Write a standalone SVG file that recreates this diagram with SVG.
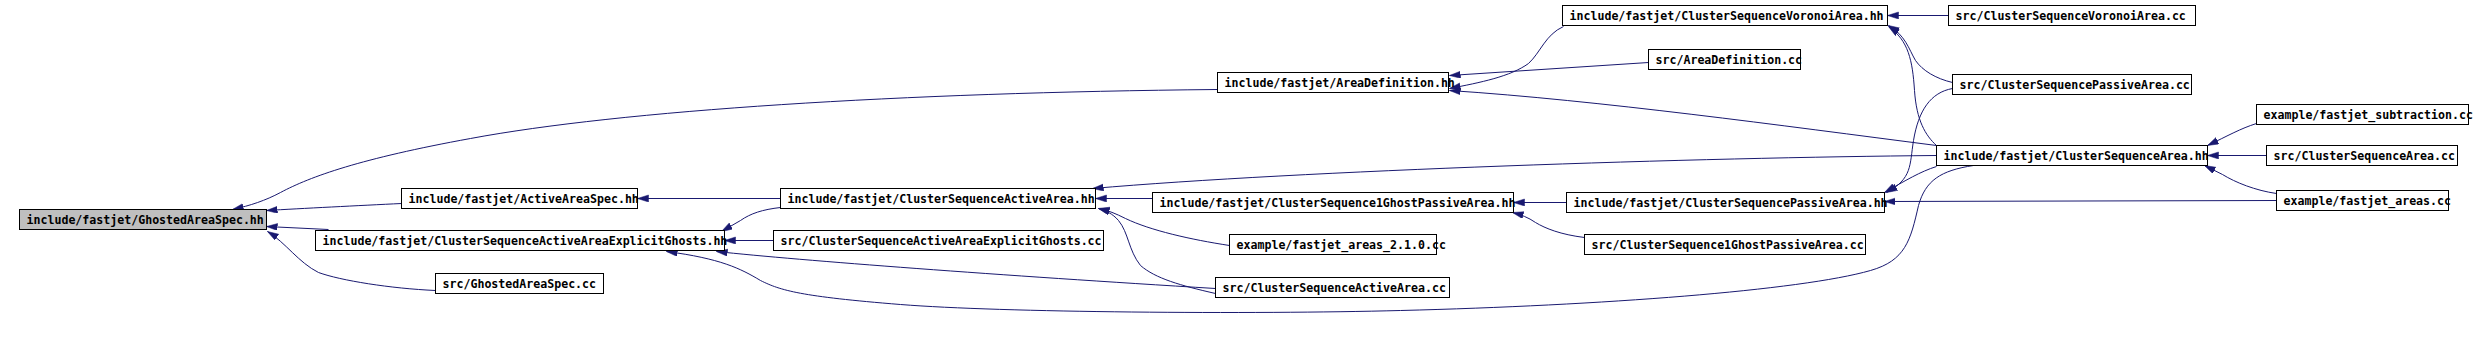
<svg xmlns="http://www.w3.org/2000/svg" width="2484" height="357" viewBox="0 0 2484 357">
<style>
.n rect{fill:#ffffff;stroke:#000000;stroke-width:1}
.n.root rect{fill:#bfbfbf}
.n text{font-family:"DejaVu Sans Mono","Liberation Mono",monospace;font-size:11.6px;font-weight:bold;fill:#000000}
#edges path{fill:none;stroke:#191970;stroke-width:1;marker-end:url(#arr)}
</style>
<defs>
<marker id="arr" markerUnits="userSpaceOnUse" markerWidth="12" markerHeight="8" refX="11" refY="3.5" orient="auto">
<path d="M0,0 L11,3.5 L0,7 z" fill="#191970" stroke="#191970" stroke-width="0.5"/>
</marker>
</defs>
<rect x="0" y="0" width="2484" height="357" fill="#ffffff"/>
<g transform="translate(0.5,0.5)">
<g id="edges">
<path d="M1217,89 C900,92 620,110 470,138 C360,158 310,176 280,192 C265,200 250,205 232,209"/>
<path d="M401,203 C360,205 300,208 266,210"/>
<path d="M328,229 L266,226"/>
<path d="M435,290 C390,288 340,280 318,272 C298,262 285,242 267,231"/>
<path d="M780,198 L637,198"/>
<path d="M780,207 C762,209 750,213 740,220 L721,231"/>
<path d="M773,240 L724,240"/>
<path d="M1215,288 C1000,275 800,260 716,251"/>
<path d="M1973,165 C1940,170 1925,180 1918,205 C1910,240 1905,260 1870,270 C1800,290 1600,305 1400,310 C1250,314 1000,312 900,304 C800,296 780,290 760,280 C740,268 720,258 666,251"/>
<path d="M1152,198 L1095,198"/>
<path d="M1936,155 C1700,157 1300,170 1092,188"/>
<path d="M1229,245 C1190,239 1150,230 1125,218 C1115,213 1108,210 1098,208"/>
<path d="M1215,293 C1180,285 1155,278 1140,265 C1128,250 1128,232 1118,220 C1112,213 1105,210 1098,208"/>
<path d="M1566,202 L1513,202"/>
<path d="M1584,237 C1560,234 1545,228 1535,222 C1528,217 1520,214 1512,212"/>
<path d="M1936,166 C1920,171 1905,180 1884,192"/>
<path d="M1952,88 C1930,92 1918,110 1913,140 C1909,165 1912,178 1886,192"/>
<path d="M2276,200 L1884,201"/>
<path d="M1936,145 C1925,135 1916,120 1914,90 C1912,60 1908,40 1888,26"/>
<path d="M1952,82 C1935,78 1922,70 1915,60 C1908,48 1905,35 1888,25"/>
<path d="M1948,15 L1887,15"/>
<path d="M1563,26 C1545,34 1540,52 1528,63 C1510,76 1480,82 1449,88"/>
<path d="M1648,62 L1449,75"/>
<path d="M1936,145 C1780,125 1600,100 1449,90"/>
<path d="M2256,123 C2240,128 2228,135 2207,145"/>
<path d="M2266,155 L2207,155"/>
<path d="M2276,193 C2255,190 2235,182 2222,174 L2204,165"/>
</g>
<g id="n_ghosted_hh" class="n root"><rect x="19" y="209" width="247" height="20"/><text x="26" y="223.5">include/fastjet/GhostedAreaSpec.hh</text></g>
<g id="n_activeareaspec_hh" class="n"><rect x="401" y="188" width="236" height="20"/><text x="408" y="202.5">include/fastjet/ActiveAreaSpec.hh</text></g>
<g id="n_csaaeg_hh" class="n"><rect x="315" y="230" width="409" height="20"/><text x="322" y="244.5">include/fastjet/ClusterSequenceActiveAreaExplicitGhosts.hh</text></g>
<g id="n_ghosted_cc" class="n"><rect x="435" y="273" width="168" height="20"/><text x="442" y="287.5">src/GhostedAreaSpec.cc</text></g>
<g id="n_csactive_hh" class="n"><rect x="780" y="188" width="315" height="20"/><text x="787" y="202.5">include/fastjet/ClusterSequenceActiveArea.hh</text></g>
<g id="n_csaaeg_cc" class="n"><rect x="773" y="230" width="330" height="20"/><text x="780" y="244.5">src/ClusterSequenceActiveAreaExplicitGhosts.cc</text></g>
<g id="n_areadef_hh" class="n"><rect x="1217" y="72" width="231" height="20"/><text x="1224" y="86.5">include/fastjet/AreaDefinition.hh</text></g>
<g id="n_cs1gpa_hh" class="n"><rect x="1152" y="192" width="361" height="20"/><text x="1159" y="206.5">include/fastjet/ClusterSequence1GhostPassiveArea.hh</text></g>
<g id="n_areas210_cc" class="n"><rect x="1229" y="234" width="207" height="20"/><text x="1236" y="248.5">example/fastjet_areas_2.1.0.cc</text></g>
<g id="n_csactive_cc" class="n"><rect x="1215" y="277" width="234" height="20"/><text x="1222" y="291.5">src/ClusterSequenceActiveArea.cc</text></g>
<g id="n_csvoronoi_hh" class="n"><rect x="1562" y="5" width="325" height="20"/><text x="1569" y="19.5">include/fastjet/ClusterSequenceVoronoiArea.hh</text></g>
<g id="n_csvoronoi_cc" class="n"><rect x="1948" y="5" width="247" height="20"/><text x="1955" y="19.5">src/ClusterSequenceVoronoiArea.cc</text></g>
<g id="n_areadef_cc" class="n"><rect x="1648" y="49" width="152" height="20"/><text x="1655" y="63.5">src/AreaDefinition.cc</text></g>
<g id="n_cspassive_cc" class="n"><rect x="1952" y="74" width="239" height="20"/><text x="1959" y="88.5">src/ClusterSequencePassiveArea.cc</text></g>
<g id="n_csarea_hh" class="n"><rect x="1936" y="145" width="271" height="20"/><text x="1943" y="159.5">include/fastjet/ClusterSequenceArea.hh</text></g>
<g id="n_cspassive_hh" class="n"><rect x="1566" y="192" width="318" height="20"/><text x="1573" y="206.5">include/fastjet/ClusterSequencePassiveArea.hh</text></g>
<g id="n_cs1gpa_cc" class="n"><rect x="1584" y="234" width="281" height="20"/><text x="1591" y="248.5">src/ClusterSequence1GhostPassiveArea.cc</text></g>
<g id="n_subtraction_cc" class="n"><rect x="2256" y="104" width="212" height="20"/><text x="2263" y="118.5">example/fastjet_subtraction.cc</text></g>
<g id="n_csarea_cc" class="n"><rect x="2266" y="145" width="191" height="20"/><text x="2273" y="159.5">src/ClusterSequenceArea.cc</text></g>
<g id="n_areas_cc" class="n"><rect x="2276" y="190" width="172" height="20"/><text x="2283" y="204.5">example/fastjet_areas.cc</text></g>
</g>
</svg>
